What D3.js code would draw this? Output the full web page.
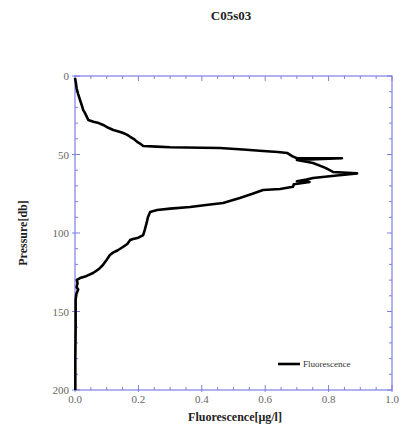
<!DOCTYPE html>
<html><head><meta charset="utf-8">
<script src="https://cdn.jsdelivr.net/npm/d3@7"></script>
<style>body{margin:0;background:#fff}svg{display:block}</style>
</head><body>
<svg id="c" width="412" height="434"></svg>
<script>
// Data
const fluorescence = [0.000,0.003,0.005,0.010,0.016,0.022,0.026,0.030,0.037,0.042,0.058,0.075,0.089,0.105,0.121,0.140,0.152,0.165,0.174,0.185,0.195,0.205,0.215,0.258,0.300,0.400,0.457,0.530,0.593,0.640,0.669,0.685,0.700,0.842,0.700,0.751,0.790,0.814,0.890,0.826,0.751,0.730,0.700,0.740,0.690,0.688,0.647,0.593,0.560,0.520,0.467,0.420,0.363,0.300,0.259,0.237,0.230,0.226,0.220,0.215,0.200,0.183,0.174,0.165,0.151,0.135,0.120,0.110,0.100,0.088,0.075,0.057,0.035,0.016,0.006,0.008,0.005,0.010,0.004,0.002,0.002,0.001,0.001];
const pressure     = [1.3,4.5,7.8,11.5,15.3,19.0,21.7,23.0,25.9,28.0,29.1,30.0,31.2,33.0,34.4,35.5,36.3,37.5,38.7,40.0,41.8,43.0,44.6,45.0,45.4,45.7,45.9,46.8,47.8,48.4,49.0,51.0,52.4,52.4,53.5,55.4,58.5,61.1,62.0,63.4,65.0,66.0,67.0,67.5,69.0,70.5,72.0,72.6,75.0,77.7,80.9,82.0,83.4,84.5,85.4,86.6,90.0,93.6,98.0,101.3,103.0,103.8,104.5,107.0,108.9,111.0,112.5,114.0,117.0,120.4,123.0,125.5,127.5,128.7,129.9,132.0,134.5,136.0,139.0,142.7,160.0,180.0,200.0];
const xTicks = [0, 0.2, 0.4, 0.6, 0.8, 1.0];
const yTicks = [0, 50, 100, 150, 200];
const titleText = "C05s03";
const xLabel = "Fluorescence[\u03bcg/l]";
const yLabel = "Pressure[db]";
const seriesName = "Fluorescence";

const svg = d3.select("#c");
const L = 75, R = 392, T = 76, B = 390;
const x = d3.scaleLinear().domain([0, 1]).range([L, R]);
const y = d3.scaleLinear().domain([0, 200]).range([T, B]);
const axisCol = "#7f7fe0";
const serif = "'Liberation Serif','DejaVu Serif',serif";

// frame
svg.append("rect").attr("x", L).attr("y", T).attr("width", R - L).attr("height", B - T)
  .attr("fill", "none").attr("stroke", axisCol).attr("stroke-width", 1.2);

// minor ticks
const xMinor = d3.range(0, 1.0001, 0.05);
const yMinor = d3.range(0, 200.001, 10);
const tg = svg.append("g").attr("stroke", axisCol).attr("stroke-width", 1);
xMinor.forEach(v => {
  const major = xTicks.some(t => Math.abs(t - v) < 1e-6);
  const len = major ? 5 : 3;
  tg.append("line").attr("x1", x(v)).attr("x2", x(v)).attr("y1", B + (major ? 2 : 0)).attr("y2", B - len);
  tg.append("line").attr("x1", x(v)).attr("x2", x(v)).attr("y1", T).attr("y2", T + len);
});
yMinor.forEach(v => {
  const major = yTicks.includes(Math.round(v));
  const len = major ? 5 : 3;
  tg.append("line").attr("y1", y(v)).attr("y2", y(v)).attr("x1", L - (major ? 3 : 0)).attr("x2", L + len);
  tg.append("line").attr("y1", y(v)).attr("y2", y(v)).attr("x1", R).attr("x2", R - len);
});

// tick labels
svg.append("g").selectAll("text").data(xTicks).join("text")
  .attr("x", d => x(d)).attr("y", B + 13).attr("text-anchor", "middle")
  .attr("font-family", serif).attr("font-size", 11).attr("fill", "#666")
  .text(d => d3.format(".1f")(d));
svg.append("g").selectAll("text").data(yTicks).join("text")
  .attr("x", L - 6).attr("y", d => y(d) + 4).attr("text-anchor", "end")
  .attr("font-family", serif).attr("font-size", 11).attr("fill", "#666")
  .text(d => d);

// titles
svg.append("text").attr("x", 231).attr("y", 20).attr("text-anchor", "middle")
  .attr("font-family", serif).attr("font-weight", "bold").attr("font-size", 13).attr("fill", "#222")
  .text(titleText);
svg.append("text").attr("x", 235).attr("y", 421).attr("text-anchor", "middle")
  .attr("font-family", serif).attr("font-weight", "bold").attr("font-size", 12).attr("fill", "#222")
  .text(xLabel);
svg.append("text").attr("transform", "translate(27,233) rotate(-90)").attr("text-anchor", "middle")
  .attr("font-family", serif).attr("font-weight", "bold").attr("font-size", 12).attr("fill", "#222")
  .text(yLabel);

// line
const pts = fluorescence.map((f, i) => [f, pressure[i]]);
svg.append("path").datum(pts)
  .attr("fill", "none").attr("stroke", "#000").attr("stroke-width", 2.6).attr("stroke-linejoin", "round")
  .attr("d", d3.line().x(d => x(d[0])).y(d => y(d[1])));

// legend
svg.append("line").attr("x1", 278).attr("x2", 300).attr("y1", 364).attr("y2", 364)
  .attr("stroke", "#000").attr("stroke-width", 2.6);
svg.append("text").attr("x", 303).attr("y", 367).attr("font-family", serif).attr("font-size", 9).attr("fill", "#333")
  .text(seriesName);
</script>
</body></html>
